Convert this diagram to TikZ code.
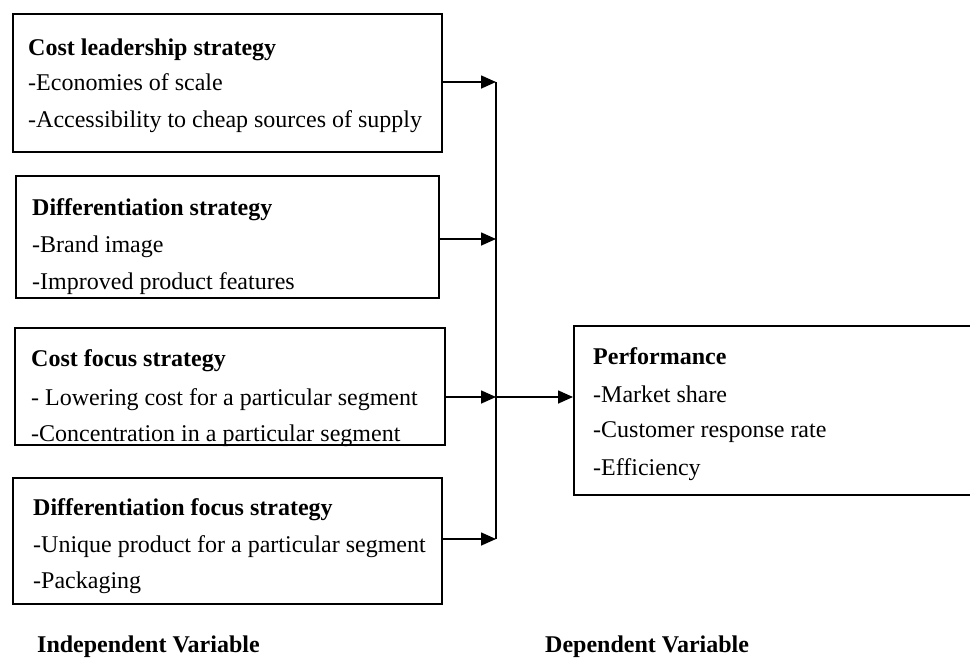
\documentclass[tikz,border=0pt]{standalone}
\usepackage{fontspec}
\setmainfont{Liberation Serif}
\usetikzlibrary{arrows.meta}
\begin{document}
\begin{tikzpicture}[x=1pt,y=-1pt,
 box/.style={draw, line width=1.6pt, inner sep=0pt, anchor=north west},
 txt/.style={anchor=base west, inner sep=0pt, font=\fontsize{24}{28}\selectfont},
 ttl/.style={anchor=base west, inner sep=0pt, font=\fontsize{24}{28}\selectfont\bfseries},
 conn/.style={line width=1.6pt},
 arr/.style={conn, -{Triangle[length=15pt,width=13pt]}}]
\useasboundingbox (0,0) rectangle (970,657);

% boxes
\node[box, minimum width=429pt, minimum height=138pt] (b1) at (12,13) {};
\node[box, minimum width=423pt, minimum height=122pt] (b2) at (15,175) {};
\node[box, minimum width=430pt, minimum height=117pt] (b3) at (14,327) {};
\node[box, minimum width=429pt, minimum height=126pt] (b4) at (12,477) {};
\node[box, minimum width=410pt, minimum height=169pt] (perf) at (573,325) {};

% box 1
\node[ttl] (t11) at (28,55) {Cost leadership strategy};
\node[txt] (t12) at (28,90) {-Economies of scale};
\node[txt] (t13) at (28,127) {-Accessibility to cheap sources of supply};
% box 2
\node[ttl] (t21) at (32,215) {Differentiation strategy};
\node[txt] (t22) at (32,252) {-Brand image};
\node[txt] (t23) at (32,289) {-Improved product features};
% box 3
\node[ttl] (t31) at (31,366) {Cost focus strategy};
\node[txt] (t32) at (31,405) {- Lowering cost for a particular segment};
\node[txt] (t33) at (31,441) {-Concentration in a particular segment};
% box 4
\node[ttl] (t41) at (33,515) {Differentiation focus strategy};
\node[txt] (t42) at (33,552) {-Unique product for a particular segment};
\node[txt] (t43) at (33,588) {-Packaging};
% performance
\node[ttl] (p1) at (593,364) {Performance};
\node[txt] (p2) at (593,402) {-Market share};
\node[txt] (p3) at (593,437) {-Customer response rate};
\node[txt] (p4) at (593,475) {-Efficiency};

% footer labels
\node[ttl] (iv) at (37,652) {Independent Variable};
\node[ttl] (dv) at (545,652) {Dependent Variable};

% connectors
\coordinate (j1) at (496,82);
\coordinate (j2) at (496,239);
\coordinate (j3) at (496,397);
\coordinate (j4) at (496,539);
\draw[conn] (j1) -- (j4);
\draw[arr] (b1.east |- j1) -- (j1);
\draw[arr] (b2.east |- j2) -- (j2);
\draw[arr] (b3.east |- j3) -- (j3);
\draw[arr] (b4.east |- j4) -- (j4);
\draw[arr] (j3) -- (perf.west |- j3);
\end{tikzpicture}
\end{document}
